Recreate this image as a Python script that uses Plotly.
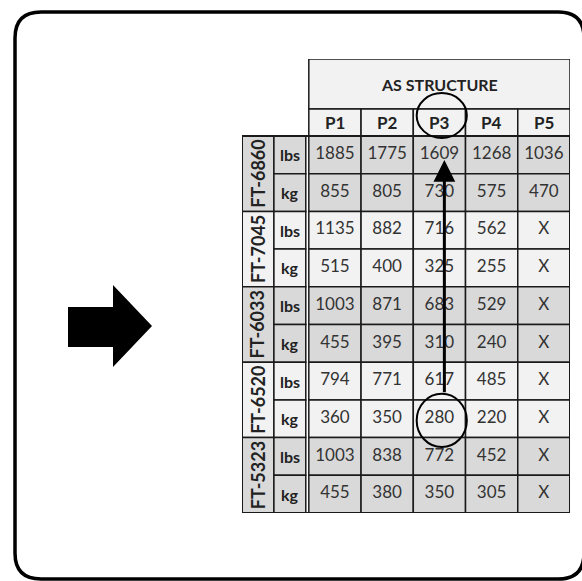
import plotly.graph_objects as go

# ---------------- data ----------------
header_title = "AS STRUCTURE"
positions = ["P1", "P2", "P3", "P4", "P5"]
groups = ["FT-6860", "FT-7045", "FT-6033", "FT-6520", "FT-5323"]
units = ["lbs", "kg"]
lbs_values = [
    ["1885", "1775", "1609", "1268", "1036"],
    ["1135", "882", "716", "562", "X"],
    ["1003", "871", "683", "529", "X"],
    ["794", "771", "617", "485", "X"],
    ["1003", "838", "772", "452", "X"],
]
kg_values = [
    ["855", "805", "730", "575", "470"],
    ["515", "400", "325", "255", "X"],
    ["455", "395", "310", "240", "X"],
    ["360", "350", "280", "220", "X"],
    ["455", "380", "350", "305", "X"],
]
highlight_group = "FT-6520"
highlight_unit = "kg"
highlight_pos = "P3"

# ---------------- style / geometry ----------------
W, H = 582, 581
GROUP_W, UNIT_W = 0.611, 0.668      # in P-column units
PROW_H, HEAD_H = 0.716, 1.326        # in data-row units
DBL_GAP = 0.058
GRAY, LIGHT, HEAD_FILL = "#d9d9d9", "#f2f2f2", "#f2f2f2"
LINE = "#1a1a1a"
FONT = "Lato"
TXT = "#333333"

n_rows = len(groups) * len(units)
x_left = -(GROUP_W + UNIT_W)
y_top = -(PROW_H + HEAD_H)

fig = go.Figure()
shapes = []
annotations = []

# outer rounded frame (decoration, pixel space on x/y)
r = 26
L, T, R, B = 15, 12, 584, 579
frame = (f"M {L+r},{T} L {R-r},{T} Q {R},{T} {R},{T+r} L {R},{B-r} Q {R},{B} {R-r},{B} "
         f"L {L+r},{B} Q {L},{B} {L},{B-r} L {L},{T+r} Q {L},{T} {L+r},{T} Z")
shapes.append(dict(type="path", path=frame, xref="x", yref="y",
                   line=dict(color="black", width=3.5), fillcolor="rgba(0,0,0,0)"))
# big block arrow
arrow = "M 68,307 L 113,307 L 113,285 L 152,326 L 113,367 L 113,347 L 68,347 Z"
shapes.append(dict(type="path", path=arrow, xref="x", yref="y",
                   line=dict(color="black", width=0), fillcolor="black"))

def cell(x0, x1, y0, y1, fill, lw=1.5):
    shapes.append(dict(type="rect", xref="x2", yref="y2", x0=x0, x1=x1, y0=y0, y1=y1,
                       fillcolor=fill, line=dict(color=LINE, width=lw), layer="below"))

# header
cell(0, len(positions), y_top, -PROW_H, HEAD_FILL)
for i, p in enumerate(positions):
    cell(i, i + 1, -PROW_H, 0, HEAD_FILL)

# body
tx, ty, tt = [], [], []
for g, grp in enumerate(groups):
    fill = GRAY if g % 2 == 0 else LIGHT
    r0 = g * len(units)
    cell(x_left, x_left + GROUP_W, r0, r0 + len(units), fill)
    annotations.append(dict(x=x_left + GROUP_W / 2, y=r0 + len(units) / 2, xref="x2", yref="y2",
                            text=f"<b>{grp}</b>", textangle=-90, showarrow=False,
                            font=dict(family=FONT, size=18, color="#222222")))
    for u, unit in enumerate(units):
        row = r0 + u
        vals = lbs_values[g] if unit == "lbs" else kg_values[g]
        cell(x_left + GROUP_W, -DBL_GAP, row, row + 1, fill)
        annotations.append(dict(x=x_left + GROUP_W + (UNIT_W - DBL_GAP) / 2, y=row + 0.5,
                                xref="x2", yref="y2", text=f"<b>{unit}</b>", showarrow=False,
                                font=dict(family=FONT, size=16, color="#222222")))
        for i, v in enumerate(vals):
            cell(i, i + 1, row, row + 1, fill)
            tx.append(i + 0.5); ty.append(row + 0.5); tt.append(v)

# column header texts
for i, p in enumerate(positions):
    annotations.append(dict(x=i + 0.5, y=-PROW_H / 2, xref="x2", yref="y2", text=f"<b>{p}</b>",
                            showarrow=False, font=dict(family=FONT, size=17, color="#222222")))
annotations.append(dict(x=len(positions) / 2, y=-PROW_H - HEAD_H / 2 + 0.02, xref="x2", yref="y2",
                        text=f"<b>{header_title}</b>", showarrow=False,
                        font=dict(family=FONT, size=16, color="#222222")))

# outer table outline
shapes.append(dict(type="rect", xref="x2", yref="y2", x0=x_left, x1=len(positions), y0=0, y1=n_rows,
                   line=dict(color=LINE, width=2), fillcolor="rgba(0,0,0,0)"))

fig.add_trace(go.Scatter(x=tx, y=ty, text=tt, mode="text", xaxis="x2", yaxis="y2",
                         textfont=dict(family=FONT, size=17, color=TXT), hoverinfo="skip",
                         showlegend=False))

# highlight circles + arrow
ci = positions.index(highlight_pos)
hr = groups.index(highlight_group) * len(units) + units.index(highlight_unit)
cx = ci + 0.545
shapes.append(dict(type="circle", xref="x2", yref="y2", x0=cx - 0.48, x1=cx + 0.48,
                   y0=-PROW_H / 2 - 0.78, y1=-PROW_H / 2 + 0.41,
                   line=dict(color="black", width=2)))
shapes.append(dict(type="circle", xref="x2", yref="y2", x0=cx - 0.48, x1=cx + 0.48,
                   y0=hr + 0.5 - 0.66, y1=hr + 0.5 + 0.75,
                   line=dict(color="black", width=2)))
annotations.append(dict(x=cx + 0.05, y=0.64, xref="x2", yref="y2",
                        ax=cx + 0.05, ay=hr + 0.5 - 0.66, axref="x2", ayref="y2",
                        text="", showarrow=True, arrowhead=2, arrowsize=1.45, arrowwidth=3,
                        arrowcolor="black"))

fig.update_layout(
    width=W, height=H, margin=dict(l=0, r=0, t=0, b=0),
    paper_bgcolor="white", plot_bgcolor="rgba(0,0,0,0)", showlegend=False,
    xaxis=dict(range=[0, W], domain=[0, 1], visible=False, fixedrange=True),
    yaxis=dict(range=[H, 0], domain=[0, 1], visible=False, fixedrange=True),
    xaxis2=dict(range=[x_left, len(positions)], domain=[242 / W, 570 / W], anchor="y2",
                visible=False, fixedrange=True),
    yaxis2=dict(range=[n_rows, y_top], domain=[1 - 513 / H, 1 - 59 / H], anchor="x2",
                visible=False, fixedrange=True),
    shapes=shapes, annotations=annotations,
)
fig.write_html("out.html", config={"displayModeBar": False},
               post_script="document.body.style.margin='0';document.body.style.overflow='hidden';")
